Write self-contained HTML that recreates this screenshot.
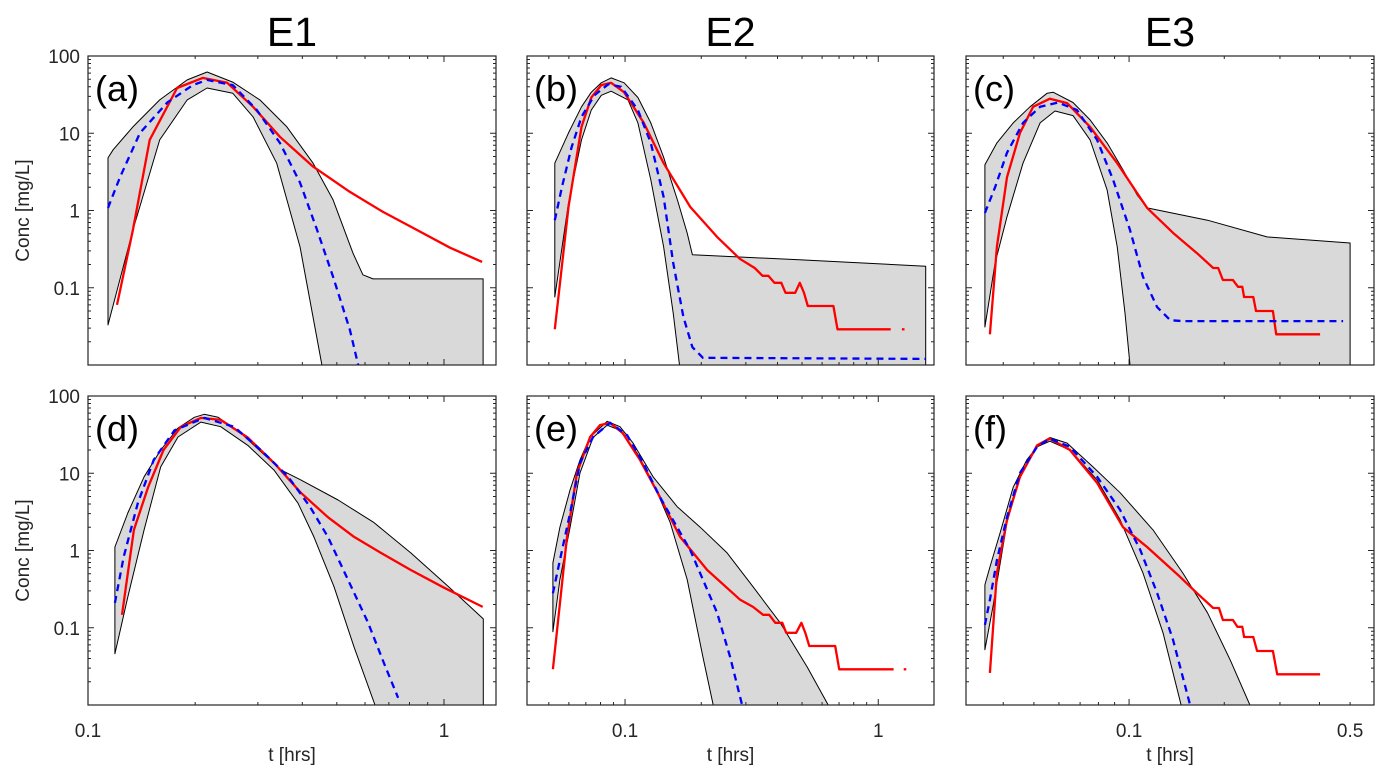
<!DOCTYPE html>
<html><head><meta charset="utf-8">
<style>
html,body{margin:0;padding:0;background:#fff;}
svg{display:block;font-family:"Liberation Sans",Arial,sans-serif;}
</style></head>
<body>
<svg id="fig" width="1387" height="782" viewBox="0 0 1387 782" xmlns="http://www.w3.org/2000/svg"></svg>
<script>
// ---- Data ----
const colTitles = ["E1","E2","E3"];
const panelLabels = ["(a)","(b)","(c)","(d)","(e)","(f)"];
const yTickVals = [0.1,1,10,100];
const yTickLabels = ["0.1","1","10","100"];
const xTickVals1 = [0.1,1];   const xTickLabels1 = ["0.1","1"];
const xTickVals2 = [0.1,1];   const xTickLabels2 = ["0.1","1"];
const xTickVals3 = [0.1,0.5]; const xTickLabels3 = ["0.1","0.5"];

// panel a
const aUpT=[0.1138,0.1176,0.1337,0.159,0.190,0.216,0.255,0.304,0.362,0.429,0.488,0.555,0.592,0.632,1.288,1.288];
const aUpC=[4.8,6.1,12.1,27,49,62,46,27,12.1,4.1,1.37,0.28,0.147,0.13,0.13,0.005];
const aLoT=[0.1138,0.1337,0.159,0.190,0.216,0.255,0.291,0.339,0.394,0.454];
const aLoC=[0.033,0.56,8.2,27,38.5,33,16.3,4.1,0.34,0.01];
const aRedT=[0.1206,0.1337,0.149,0.178,0.210,0.246,0.291,0.346,0.429,0.544,0.674,0.84,1.04,1.28];
const aRedC=[0.060,0.56,8.2,38.5,52,45,22,9,3.7,1.74,0.96,0.56,0.33,0.216];
const aBlueT=[0.1138,0.123,0.140,0.167,0.197,0.216,0.255,0.298,0.346,0.394,0.44,0.488,0.544,0.574];
const aBlueC=[1.08,2.7,10.1,25,42,49,42,20,7.5,2.3,0.56,0.138,0.0285,0.01];
// panel b
const bUpT=[0.0528,0.0598,0.0673,0.0736,0.0806,0.0881,0.0991,0.1124,0.1264,0.142,0.161,0.176,0.1845,0.487,1.54,1.54];
const bUpC=[4.1,10.1,22,34,45,52,45,29,13.6,4.9,1.37,0.51,0.267,0.23,0.19,0.005];
const bLoT=[0.0528,0.0598,0.0673,0.0736,0.0806,0.0881,0.1027,0.1124,0.1264,0.142,0.155,0.164];
const bLoC=[0.076,1.25,8.2,20,31,35,27,13.6,2.5,0.34,0.047,0.01];
const bRedT=[0.0528,0.0598,0.0673,0.0736,0.0806,0.0881,0.0991,0.1186,0.142,0.181,0.231,0.284,0.325,0.349,0.368,0.389,0.414,0.43,0.47,0.49,0.509,0.527,0.665,0.69,1.12];
const bRedC=[0.029,1.11,12.1,29,42,45,34,13.6,4.1,1.11,0.455,0.237,0.18,0.143,0.143,0.116,0.116,0.086,0.086,0.116,0.086,0.058,0.058,0.029,0.029];
const bDotT=[1.24,1.27]; const bDotC=[0.029,0.029];
const bBlueT=[0.0528,0.0563,0.0615,0.0673,0.0757,0.0858,0.0965,0.1124,0.1264,0.142,0.155,0.170,0.1845,0.203,1.54];
const bBlueC=[0.75,2.0,6.6,16.3,31,43,40,20,7.5,1.5,0.21,0.042,0.017,0.0124,0.012];
// panel c
const cUpT=[0.035,0.0382,0.043,0.0486,0.0551,0.0575,0.0665,0.0753,0.0852,0.0957,0.106,0.114,0.177,0.273,0.5,0.5];
const cUpC=[3.9,7.5,13.6,22,33,34,25,14.9,7.5,3.35,1.59,1.08,0.75,0.455,0.38,0.005];
const cLoT=[0.035,0.0377,0.0411,0.0462,0.0523,0.0583,0.0665,0.0753,0.0852,0.0917,0.0971,0.1007];
const cLoC=[0.031,0.21,0.83,4.1,13.6,19.4,16.9,8.2,1.85,0.34,0.047,0.01];
const cRedT=[0.0363,0.0382,0.0411,0.0452,0.0497,0.0562,0.0637,0.0753,0.0917,0.114,0.138,0.164,0.1845,0.1914,0.198,0.213,0.221,0.228,0.231,0.247,0.252,0.285,0.292,0.402];
const cRedC=[0.025,0.34,2.7,10.1,22,28,24.6,12.1,4.1,1.08,0.51,0.28,0.18,0.18,0.126,0.126,0.103,0.103,0.076,0.076,0.05,0.05,0.025,0.025];
const cBlueT=[0.035,0.0377,0.0411,0.0462,0.0523,0.0596,0.0684,0.0792,0.089,0.1007,0.1107,0.1227,0.135,0.148,0.475];
const cBlueC=[0.93,2.0,5.6,13.6,22,25,20,8.2,2.5,0.56,0.138,0.056,0.038,0.037,0.037];
// panel d
const dUpT=[0.119,0.1294,0.1437,0.160,0.179,0.199,0.212,0.232,0.269,0.306,0.349,0.396,0.504,0.636,0.807,1.03,1.29,1.29];
const dUpC=[1.11,3.06,9,20,38.5,53,58,53,33,19,11,8.2,4.5,2.3,0.93,0.34,0.13,0.005];
const dLoT=[0.119,0.1294,0.1437,0.160,0.179,0.2075,0.236,0.281,0.333,0.389,0.431,0.491,0.559,0.64];
const dLoC=[0.046,0.25,1.85,12.1,29.5,46,40,23,11,4.1,1.5,0.34,0.056,0.01];
const dRedT=[0.1246,0.1346,0.1475,0.163,0.1825,0.2075,0.236,0.281,0.333,0.396,0.472,0.559,0.665,0.807,1.0,1.285];
const dRedC=[0.147,1.85,6.6,20,40,52,49,29,13.6,5.6,2.7,1.5,0.93,0.56,0.33,0.186];
const dBlueT=[0.119,0.126,0.138,0.153,0.175,0.212,0.257,0.306,0.365,0.42,0.472,0.537,0.612,0.678,0.743];
const dBlueC=[0.21,0.83,4.1,14.9,36,52,40,20,9,3.7,1.5,0.42,0.116,0.035,0.0124];
// panel e
const eUpT=[0.0519,0.0553,0.0607,0.0664,0.0728,0.085,0.0955,0.1076,0.129,0.1606,0.198,0.253,0.32,0.41,0.524,0.634];
const eUpC=[0.69,2.0,6.1,14.9,29.5,47,40,24.6,9,3.7,2.0,0.93,0.34,0.116,0.031,0.01];
const eLoT=[0.0519,0.0553,0.0607,0.0664,0.0748,0.085,0.0955,0.1115,0.129,0.1507,0.176,0.203,0.223];
const eLoC=[0.089,0.42,2.0,10.1,29,42,36,18.3,7.5,2.3,0.42,0.042,0.01];
const eRedT=[0.0519,0.059,0.0646,0.0728,0.0796,0.0873,0.098,0.1146,0.1374,0.165,0.211,0.285,0.32,0.351,0.371,0.392,0.418,0.433,0.474,0.497,0.515,0.534,0.676,0.701,1.15];
const eRedC=[0.029,1.5,10.1,29.5,42,45,33,14.9,4.9,1.5,0.56,0.23,0.186,0.147,0.147,0.116,0.116,0.086,0.086,0.116,0.086,0.058,0.058,0.029,0.029];
const eDotT=[1.26,1.29]; const eDotC=[0.029,0.029];
const eBlueT=[0.0519,0.0553,0.0607,0.0664,0.0748,0.0873,0.102,0.1178,0.1374,0.1606,0.1807,0.203,0.231,0.26,0.29];
const eBlueC=[0.28,0.75,3.06,13.6,29.5,45,31,13.6,4.9,2.0,1.02,0.42,0.156,0.042,0.01];
// panel f
const fUpT=[0.035,0.0363,0.0391,0.043,0.0475,0.0523,0.0562,0.0637,0.0769,0.0937,0.119,0.148,0.177,0.209,0.241];
const fUpC=[0.36,0.61,1.69,6.6,14.9,24.6,29,24.6,12.1,5.6,1.85,0.51,0.156,0.038,0.01];
const fLoT=[0.035,0.0371,0.0411,0.0452,0.0512,0.0562,0.065,0.0792,0.0937,0.1107,0.128,0.146];
const fLoC=[0.052,0.186,2.3,9,22,26,20,8.2,2.5,0.51,0.086,0.01];
const fRedT=[0.0363,0.0382,0.0411,0.0452,0.0512,0.0562,0.065,0.0792,0.0957,0.114,0.145,0.164,0.1845,0.1925,0.198,0.213,0.22,0.228,0.231,0.247,0.254,0.285,0.294,0.402];
const fRedC=[0.026,0.51,2.5,9,23,28,20,7.5,2.0,1.11,0.455,0.28,0.18,0.18,0.126,0.126,0.103,0.103,0.076,0.076,0.05,0.05,0.025,0.025];
const fBlueT=[0.035,0.0363,0.0382,0.0411,0.0452,0.0512,0.0562,0.065,0.0792,0.0937,0.1084,0.1227,0.1377,0.156];
const fBlueC=[0.109,0.23,0.75,2.7,10.1,22,28,22,9,3.35,1.02,0.28,0.07,0.01];

// ---- Layout ----
const NS="http://www.w3.org/2000/svg";
const svg=document.getElementById('fig');
const colX=[[88,496],[527,934],[966,1374]];
const rowY=[[56,365],[396,705]];
const xLims=[[0.1,1.40],[0.041,1.66],[0.0305,0.595]];
const yLim=[0.01,100];
function mk(tag,attrs,parent){const e=document.createElementNS(NS,tag);for(const k in attrs)e.setAttribute(k,attrs[k]);(parent||svg).appendChild(e);return e;}
function xScale(c,v){const [a,b]=xLims[c];const [p,q]=colX[c];return p+(Math.log10(v)-Math.log10(a))/(Math.log10(b)-Math.log10(a))*(q-p);}
function yScale(r,v){const [p,q]=rowY[r];return q-(Math.log10(v)-Math.log10(yLim[0]))/(Math.log10(yLim[1])-Math.log10(yLim[0]))*(q-p);}
function pts(c,r,T,C){return T.map((t,i)=>xScale(c,t).toFixed(1)+','+yScale(r,C[i]).toFixed(1)).join(' ');}

const panels=[
 {c:0,r:0,up:[aUpT,aUpC],lo:[aLoT,aLoC],red:[aRedT,aRedC],blue:[aBlueT,aBlueC]},
 {c:1,r:0,up:[bUpT,bUpC],lo:[bLoT,bLoC],red:[bRedT,bRedC],blue:[bBlueT,bBlueC],dot:[bDotT,bDotC]},
 {c:2,r:0,up:[cUpT,cUpC],lo:[cLoT,cLoC],red:[cRedT,cRedC],blue:[cBlueT,cBlueC]},
 {c:0,r:1,up:[dUpT,dUpC],lo:[dLoT,dLoC],red:[dRedT,dRedC],blue:[dBlueT,dBlueC]},
 {c:1,r:1,up:[eUpT,eUpC],lo:[eLoT,eLoC],red:[eRedT,eRedC],blue:[eBlueT,eBlueC],dot:[eDotT,eDotC]},
 {c:2,r:1,up:[fUpT,fUpC],lo:[fLoT,fLoC],red:[fRedT,fRedC],blue:[fBlueT,fBlueC]}
];
const xTickSets=[[xTickVals1,xTickLabels1],[xTickVals2,xTickLabels2],[xTickVals3,xTickLabels3]];

// column titles
colTitles.forEach((t,i)=>{
  const el=mk('text',{x:(colX[i][0]+colX[i][1])/2,y:46,'text-anchor':'middle','font-size':41,fill:'#000'});
  el.textContent=t;
  
  
});

panels.forEach((P,pi)=>{
  const c=P.c,r=P.r;const [x0,x1]=colX[c];const [y0,y1]=rowY[r];
  const g=mk('g',{});
  
  
  const cp=mk('clipPath',{id:'clip'+pi},g);
  mk('rect',{x:x0,y:y0,width:x1-x0,height:y1-y0},cp);
  const inner=mk('g',{'clip-path':'url(#clip'+pi+')'},g);
  const bandPts=pts(c,r,P.up[0],P.up[1])+' '+pts(c,r,P.lo[0].slice().reverse(),P.lo[1].slice().reverse());
  const band=mk('polygon',{points:bandPts,fill:'#d9d9d9',stroke:'#000','stroke-width':1,'stroke-linejoin':'round'},inner);
  
  
  const red=mk('polyline',{points:pts(c,r,P.red[0],P.red[1]),fill:'none',stroke:'#ff0000','stroke-width':2.3,'stroke-linejoin':'round'},inner);
  
  
  if(P.dot){
    const d=mk('polyline',{points:pts(c,r,P.dot[0],P.dot[1]),fill:'none',stroke:'#ff0000','stroke-width':2.3},inner);
    
    
  }
  const blue=mk('polyline',{points:pts(c,r,P.blue[0],P.blue[1]),fill:'none',stroke:'#0000ff','stroke-width':2.3,'stroke-dasharray':'7,5','stroke-linejoin':'round'},inner);
  
  
  const box=mk('rect',{x:x0,y:y0,width:x1-x0,height:y1-y0,fill:'none',stroke:'#262626','stroke-width':1.2},g);
  
  
  let tk='';
  for(let e=-2;e<2;e++){for(let m=1;m<10;m++){const v=m*Math.pow(10,e);if(v<yLim[0]||v>yLim[1])continue;const y=yScale(r,v);const L=m===1?6:3;
    tk+=`M${x0},${y}h${L}M${x1},${y}h${-L}`;}}
  tk+=`M${x0},${y0}h6M${x1},${y0}h-6`;
  const [xa,xb]=xLims[c];
  for(let e=-2;e<1;e++){for(let m=1;m<10;m++){const v=m*Math.pow(10,e);if(v<xa||v>xb)continue;const x=xScale(c,v);const L=m===1?6:3;
    tk+=`M${x},${y1}v${-L}M${x},${y0}v${L}`;}}
  const ticks=mk('path',{d:tk,stroke:'#262626','stroke-width':1,fill:'none'},g);
  
  
  const pl=mk('text',{x:x0+7,y:y0+45,'font-size':36,fill:'#000'},g);
  pl.textContent=panelLabels[pi];
  
  
  if(c===0){
    yTickVals.forEach((v,i)=>{
      const t=mk('text',{x:x0-8,y:yScale(r,v)+7,'text-anchor':'end','font-size':19,fill:'#262626'},g);
      t.textContent=yTickLabels[i];
      
      
    });
    const yl=mk('text',{x:0,y:0,'text-anchor':'middle','font-size':19,fill:'#262626',transform:`translate(29,${(y0+y1)/2}) rotate(-90)`},g);
    yl.textContent='Conc [mg/L]';
    
    
  }
  if(r===1){
    const [tv,tl]=xTickSets[c];
    tv.forEach((v,i)=>{
      const t=mk('text',{x:xScale(c,v),y:y1+32,'text-anchor':'middle','font-size':19,fill:'#262626'},g);
      t.textContent=tl[i];
      
      
    });
    const xl=mk('text',{x:(x0+x1)/2,y:y1+56,'text-anchor':'middle','font-size':19,fill:'#262626'},g);
    xl.textContent='t [hrs]';
    
    
  }
});
</script>
</body></html>
